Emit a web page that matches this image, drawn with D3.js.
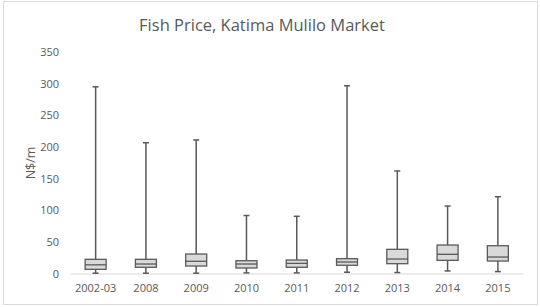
<!DOCTYPE html>
<html><head><meta charset="utf-8">
<script src="https://cdn.jsdelivr.net/npm/d3@7"></script>
<style>body{margin:0;background:#fff}svg{display:block}text{font-family:"Open Sans","Noto Sans",sans-serif}</style>
</head><body><svg id="c" width="540" height="307"></svg>
<script>
const categories = ["2002-03","2008","2009","2010","2011","2012","2013","2014","2015"];
const minVals    = [0.5, 0.5, 0.5, 1, 1, 2, 1.5, 4, 3];
const q1Vals     = [6.6, 9.8, 11.8, 8.7, 9.8, 13, 15.5, 20.8, 19.7];
const medianVals = [13.7, 15, 19.3, 15, 16, 18.2, 22.9, 30.3, 26];
const q3Vals     = [22.4, 22.4, 30.8, 20.2, 21.3, 23.4, 38.2, 45, 43.9];
const maxVals    = [295, 206.6, 211, 91.6, 90.4, 296.7, 162, 106.6, 121.3];
const yTicks     = [0, 50, 100, 150, 200, 250, 300, 350];

const svg = d3.select("#c");
svg.append("rect").attr("x",3.5).attr("y",1.5).attr("width",534).attr("height",303)
  .attr("fill","#fff").attr("stroke","#d9d9d9");

const x = d3.scaleBand().domain(categories).range([70.5, 523]).padding(0);
const y = d3.scaleLinear().domain([0, 350]).range([273.5, 52]);

svg.append("text").attr("x", 262).attr("y", 31).attr("text-anchor","middle")
  .attr("font-size", 16.5).attr("fill","#595959").text("Fish Price, Katima Mulilo Market");

// y axis labels
const yAxis = svg.append("g").attr("transform","translate(62,0)")
  .call(d3.axisLeft(y).tickValues(yTicks).tickSize(0).tickPadding(3));
yAxis.select(".domain").remove();
yAxis.selectAll("text").attr("font-size", 11).attr("fill","#595959")
  .style("font-family", '"Open Sans","Noto Sans",sans-serif');

svg.append("text").attr("transform","translate(35,163) rotate(-90)").attr("text-anchor","middle")
  .attr("font-size", 12.5).attr("fill","#595959").text("N$/m");

// x axis
const xAxis = svg.append("g").attr("transform","translate(0,273.5)")
  .call(d3.axisBottom(x).tickSize(0).tickPadding(11));
xAxis.select(".domain").attr("stroke","#d9d9d9").attr("stroke-width",1);
xAxis.selectAll("text").attr("font-size", 11).attr("fill","#595959")
  .style("font-family", '"Open Sans","Noto Sans",sans-serif');

const data = categories.map((c,i)=>({c, min:minVals[i], q1:q1Vals[i], med:medianVals[i], q3:q3Vals[i], max:maxVals[i]}));
const bw = 21, cw = 6;
const g = svg.append("g").selectAll("g").data(data).join("g")
  .attr("transform", d => `translate(${x(d.c)+x.bandwidth()/2},0)`);
const col = "#595959";
g.append("line").attr("y1", d=>y(d.max)).attr("y2", d=>y(d.q3)).attr("stroke",col).attr("stroke-width",1.5);
g.append("line").attr("y1", d=>y(d.q1)).attr("y2", d=>y(d.min)).attr("stroke",col).attr("stroke-width",1.5);
g.append("line").attr("x1",-cw/2).attr("x2",cw/2).attr("y1", d=>y(d.max)).attr("y2", d=>y(d.max)).attr("stroke",col).attr("stroke-width",1.5);
g.append("line").attr("x1",-cw/2).attr("x2",cw/2).attr("y1", d=>y(d.min)).attr("y2", d=>y(d.min)).attr("stroke",col).attr("stroke-width",1.5);
g.append("rect").attr("x",-bw/2).attr("width",bw).attr("y", d=>y(d.q3)).attr("height", d=>y(d.q1)-y(d.q3))
  .attr("fill","#d9d9d9").attr("stroke",col).attr("stroke-width",1.3);
g.append("line").attr("x1",-bw/2).attr("x2",bw/2).attr("y1", d=>y(d.med)).attr("y2", d=>y(d.med)).attr("stroke",col).attr("stroke-width",1.3);
</script></body></html>
